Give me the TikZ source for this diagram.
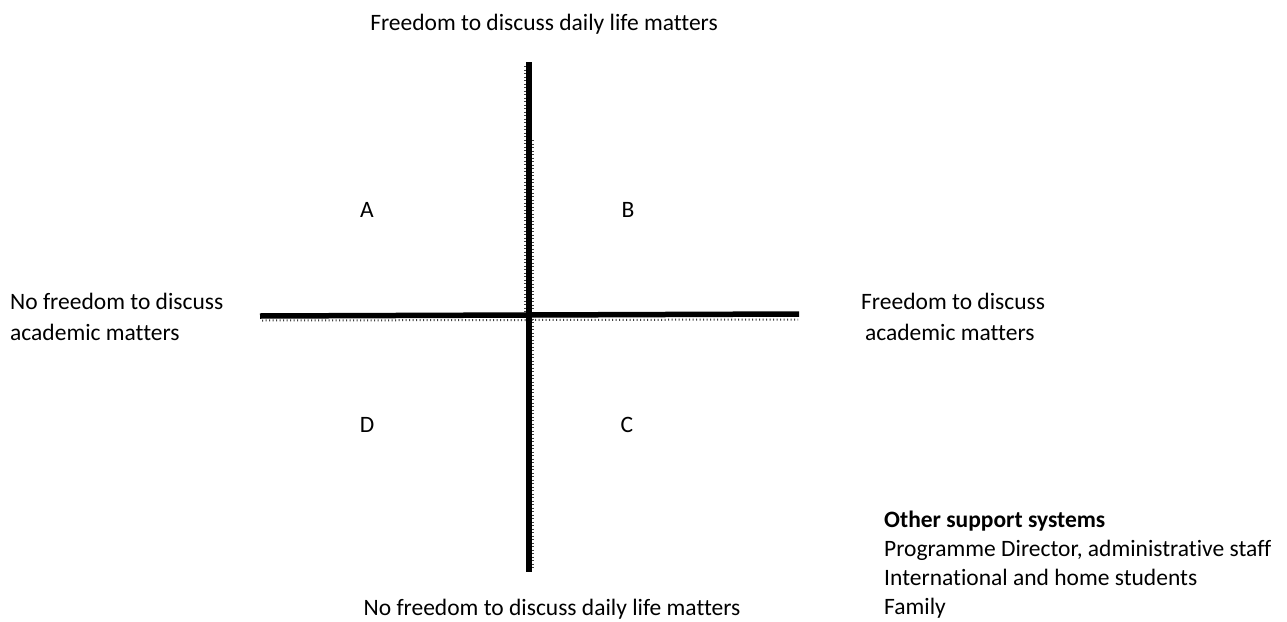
\documentclass[tikz,border=0pt]{standalone}
\usepackage{fontspec}
\setmainfont{Carlito}[Ligatures=NoCommon]
\usetikzlibrary{positioning}

\begin{document}
\begin{tikzpicture}[
        x=1pt, y=-1pt,
        every node/.style={font=\fontsize{23.5}{31}\selectfont, inner sep=0pt},
        label/.style={anchor=west, align=left},
        axis/.style={line width=5.5pt, black},
        ticks/.style={line width=2pt, black!75, dash pattern=on 1pt off 2.5pt},
    ]

    \useasboundingbox (0,0) rectangle (1287,621);

    \coordinate (T)  at (529,62);
    \coordinate (Bo) at (529,572);
    \coordinate (L)  at (260,316);
    \coordinate (R)  at (799,314);

    \node (TOP)    at (544,24)  {Freedom to discuss daily life matters};
    \node (BOTTOM) at (552,609) {No freedom to discuss daily life matters};
    \node[label] (LEFT)  at (10,317)  {No freedom to discuss\\academic matters};
    \node[label] (RIGHT) at (861,317) {Freedom to discuss\\\,academic matters};

    \node (A) at (367,210) {A};
    \node (B) at (628,210) {B};
    \node (D) at (367,425) {D};
    \node (C) at (627,425) {C};

    \node[label, font=\fontsize{23.5}{29}\selectfont] (OTHER) at (884,565) {\textbf{Other support systems}\\
        Programme Director, administrative staff\\
        International and home students\\
        Family};

    \draw[ticks] (262,320.5) -- (798,319.5);
    \draw[ticks] (525,66) -- (525,312);
    \draw[ticks] (533,140) -- (533,570);

    \draw[axis] (L) -- (R);
    \draw[axis] (T) -- (Bo);

\end{tikzpicture}
\end{document}
